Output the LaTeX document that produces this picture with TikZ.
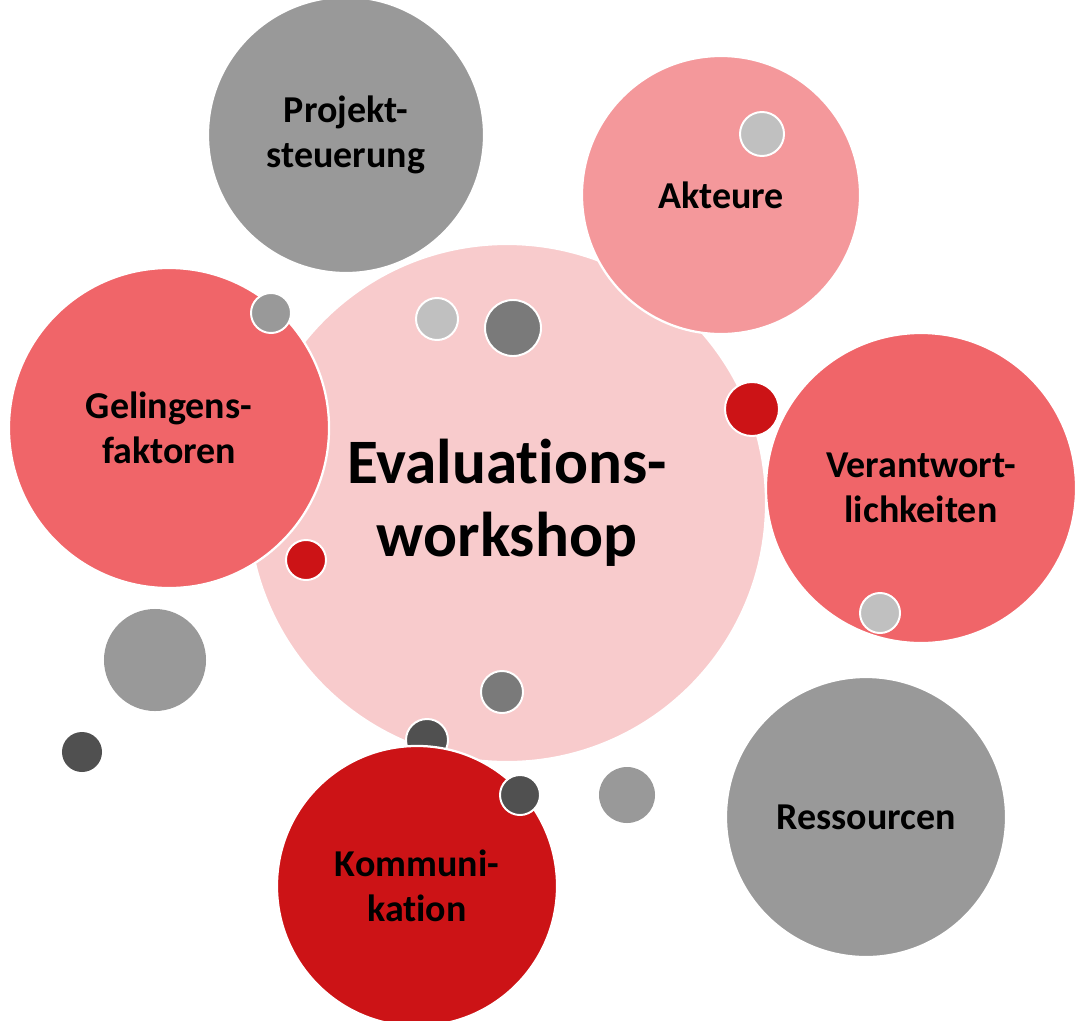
\documentclass[tikz,border=0pt]{standalone}
\usepackage{fontspec}
\setmainfont{Carlito}[Ligatures=NoCommon]
\usepackage{tikz}

\definecolor{rosa}{HTML}{F8CBCC}
\definecolor{lachs}{HTML}{F4989B}
\definecolor{koralle}{HTML}{F06569}
\definecolor{rot}{HTML}{CC1316}
\definecolor{grau}{HTML}{999999}
\definecolor{hellgrau}{HTML}{C0C0C0}
\definecolor{mittelgrau}{HTML}{7A7A7A}
\definecolor{dunkelgrau}{HTML}{505050}

\begin{document}
\begin{tikzpicture}[
    x=0.025cm, y=-0.025cm,
    blase/.style={circle, draw=white, line width=1.6pt, inner sep=0pt,
                  minimum size=#1, align=center, text=black,
                  font=\fontsize{27}{32}\selectfont\bfseries},
    punkt/.style={circle, draw=white, line width=1.4pt, inner sep=0pt, minimum size=#1}
  ]
    \useasboundingbox (0,0) rectangle (1076,1020);
    \clip (0,0) rectangle (1076,1020);

    % grosse Blasen
    \node[blase=12.95cm, fill=rosa, font=\fontsize{45}{52}\selectfont\bfseries]
      (eval) at (507,503) {Evaluations-\\workshop};
    \node[blase=6.9cm, fill=grau] (projekt) at (346,135) {Projekt-\\steuerung};
    \node[blase=6.95cm, fill=lachs] (akteure) at (721,195) {Akteure};
    \node[blase=8cm, fill=koralle] (gelingen) at (169,428) {Gelingens-\\faktoren};
    \node[blase=7.75cm, fill=koralle] (verantw) at (921,488) {Verantwort-\\lichkeiten};
    \node[blase=7cm, fill=grau] (ressourcen) at (866,817) {Ressourcen};
    \node[punkt=1.05cm, fill=dunkelgrau] (p9) at (427,740) {};
    \node[blase=7cm, fill=rot] (kommu) at (417,886) {Kommuni-\\kation};

    % kleine Punkte
    \node[punkt=1.1cm, fill=hellgrau] (p1) at (762,134) {};
    \node[punkt=1.0cm, fill=grau] (p2) at (271,313) {};
    \node[punkt=1.05cm, fill=hellgrau] (p3) at (437,319) {};
    \node[punkt=1.4cm, fill=mittelgrau] (p4) at (513,328) {};
    \node[punkt=1.35cm, fill=rot] (p5) at (752,409) {};
    \node[punkt=1.0cm, fill=rot] (p6) at (306,560) {};
    \node[punkt=1.0cm, fill=hellgrau] (p7) at (880,613) {};
    \node[punkt=2.55cm, fill=grau, draw=none] (p8) at (155,660) {};
    \node[punkt=1.0cm, fill=dunkelgrau, draw=none] (p10) at (82,752) {};
    \node[punkt=1.05cm, fill=mittelgrau] (p11) at (502,692) {};
    \node[punkt=1.0cm, fill=dunkelgrau] (p12) at (520,795) {};
    \node[punkt=1.4cm, fill=grau, draw=none] (p13) at (627,795) {};
  \end{tikzpicture}
\end{document}
